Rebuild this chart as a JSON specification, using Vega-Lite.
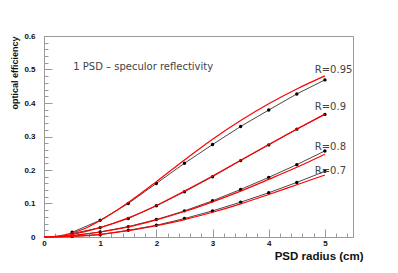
{
  "$schema": "https://vega.github.io/schema/vega-lite/v6.json",
  "autosize": "none",
  "width": 309,
  "height": 201,
  "padding": {"left": 44, "top": 36, "right": 45, "bottom": 36},
  "background": "white",
  "config": {
    "view": {"stroke": "#9a9a9a", "strokeWidth": 1},
    "axis": {
      "domainColor": "#9a9a9a",
      "tickColor": "#9a9a9a",
      "grid": false,
      "labelFont": "Liberation Sans",
      "labelFontWeight": "bold",
      "labelFontSize": 8,
      "labelColor": "#111",
      "titleFont": "Liberation Sans",
      "titleFontWeight": "bold",
      "titleColor": "#111"
    }
  },
  "datasets": {
    "curves": [
      {"series": "0.95", "kind": "data", "x": 0.5, "y": 0.014},
      {"series": "0.95", "kind": "data", "x": 1, "y": 0.050},
      {"series": "0.95", "kind": "data", "x": 1.5, "y": 0.100},
      {"series": "0.95", "kind": "data", "x": 2, "y": 0.160},
      {"series": "0.95", "kind": "data", "x": 2.5, "y": 0.220},
      {"series": "0.95", "kind": "data", "x": 3, "y": 0.276},
      {"series": "0.95", "kind": "data", "x": 3.5, "y": 0.330},
      {"series": "0.95", "kind": "data", "x": 4, "y": 0.379},
      {"series": "0.95", "kind": "data", "x": 4.5, "y": 0.427},
      {"series": "0.95", "kind": "data", "x": 5, "y": 0.469},
      {"series": "0.9", "kind": "data", "x": 0.5, "y": 0.010},
      {"series": "0.9", "kind": "data", "x": 1, "y": 0.028},
      {"series": "0.9", "kind": "data", "x": 1.5, "y": 0.055},
      {"series": "0.9", "kind": "data", "x": 2, "y": 0.093},
      {"series": "0.9", "kind": "data", "x": 2.5, "y": 0.135},
      {"series": "0.9", "kind": "data", "x": 3, "y": 0.180},
      {"series": "0.9", "kind": "data", "x": 3.5, "y": 0.228},
      {"series": "0.9", "kind": "data", "x": 4, "y": 0.275},
      {"series": "0.9", "kind": "data", "x": 4.5, "y": 0.322},
      {"series": "0.9", "kind": "data", "x": 5, "y": 0.366},
      {"series": "0.8", "kind": "data", "x": 0.5, "y": 0.004},
      {"series": "0.8", "kind": "data", "x": 1, "y": 0.015},
      {"series": "0.8", "kind": "data", "x": 1.5, "y": 0.031},
      {"series": "0.8", "kind": "data", "x": 2, "y": 0.052},
      {"series": "0.8", "kind": "data", "x": 2.5, "y": 0.078},
      {"series": "0.8", "kind": "data", "x": 3, "y": 0.108},
      {"series": "0.8", "kind": "data", "x": 3.5, "y": 0.142},
      {"series": "0.8", "kind": "data", "x": 4, "y": 0.178},
      {"series": "0.8", "kind": "data", "x": 4.5, "y": 0.216},
      {"series": "0.8", "kind": "data", "x": 5, "y": 0.257},
      {"series": "0.7", "kind": "data", "x": 0.5, "y": 0.002},
      {"series": "0.7", "kind": "data", "x": 1, "y": 0.007},
      {"series": "0.7", "kind": "data", "x": 1.5, "y": 0.020},
      {"series": "0.7", "kind": "data", "x": 2, "y": 0.035},
      {"series": "0.7", "kind": "data", "x": 2.5, "y": 0.055},
      {"series": "0.7", "kind": "data", "x": 3, "y": 0.078},
      {"series": "0.7", "kind": "data", "x": 3.5, "y": 0.104},
      {"series": "0.7", "kind": "data", "x": 4, "y": 0.132},
      {"series": "0.7", "kind": "data", "x": 4.5, "y": 0.163},
      {"series": "0.7", "kind": "data", "x": 5, "y": 0.196},
      {"series": "0.95", "kind": "fit", "x": 0, "y": 0},
      {"series": "0.95", "kind": "fit", "x": 0.25, "y": 0.003},
      {"series": "0.95", "kind": "fit", "x": 0.5, "y": 0.012},
      {"series": "0.95", "kind": "fit", "x": 0.75, "y": 0.027},
      {"series": "0.95", "kind": "fit", "x": 1, "y": 0.049},
      {"series": "0.95", "kind": "fit", "x": 1.5, "y": 0.103},
      {"series": "0.95", "kind": "fit", "x": 2, "y": 0.165},
      {"series": "0.95", "kind": "fit", "x": 2.5, "y": 0.230},
      {"series": "0.95", "kind": "fit", "x": 3, "y": 0.292},
      {"series": "0.95", "kind": "fit", "x": 3.5, "y": 0.348},
      {"series": "0.95", "kind": "fit", "x": 4, "y": 0.398},
      {"series": "0.95", "kind": "fit", "x": 4.5, "y": 0.442},
      {"series": "0.95", "kind": "fit", "x": 5, "y": 0.481},
      {"series": "0.9", "kind": "fit", "x": 0, "y": 0},
      {"series": "0.9", "kind": "fit", "x": 0.25, "y": 0.002},
      {"series": "0.9", "kind": "fit", "x": 0.5, "y": 0.008},
      {"series": "0.9", "kind": "fit", "x": 0.75, "y": 0.017},
      {"series": "0.9", "kind": "fit", "x": 1, "y": 0.028},
      {"series": "0.9", "kind": "fit", "x": 1.5, "y": 0.057},
      {"series": "0.9", "kind": "fit", "x": 2, "y": 0.094},
      {"series": "0.9", "kind": "fit", "x": 2.5, "y": 0.137},
      {"series": "0.9", "kind": "fit", "x": 3, "y": 0.182},
      {"series": "0.9", "kind": "fit", "x": 3.5, "y": 0.229},
      {"series": "0.9", "kind": "fit", "x": 4, "y": 0.276},
      {"series": "0.9", "kind": "fit", "x": 4.5, "y": 0.322},
      {"series": "0.9", "kind": "fit", "x": 5, "y": 0.367},
      {"series": "0.8", "kind": "fit", "x": 0, "y": 0},
      {"series": "0.8", "kind": "fit", "x": 0.25, "y": 0.001},
      {"series": "0.8", "kind": "fit", "x": 0.5, "y": 0.004},
      {"series": "0.8", "kind": "fit", "x": 0.75, "y": 0.009},
      {"series": "0.8", "kind": "fit", "x": 1, "y": 0.015},
      {"series": "0.8", "kind": "fit", "x": 1.5, "y": 0.030},
      {"series": "0.8", "kind": "fit", "x": 2, "y": 0.051},
      {"series": "0.8", "kind": "fit", "x": 2.5, "y": 0.076},
      {"series": "0.8", "kind": "fit", "x": 3, "y": 0.105},
      {"series": "0.8", "kind": "fit", "x": 3.5, "y": 0.137},
      {"series": "0.8", "kind": "fit", "x": 4, "y": 0.172},
      {"series": "0.8", "kind": "fit", "x": 4.5, "y": 0.208},
      {"series": "0.8", "kind": "fit", "x": 5, "y": 0.247},
      {"series": "0.7", "kind": "fit", "x": 0, "y": 0},
      {"series": "0.7", "kind": "fit", "x": 0.25, "y": 0.0005},
      {"series": "0.7", "kind": "fit", "x": 0.5, "y": 0.002},
      {"series": "0.7", "kind": "fit", "x": 0.75, "y": 0.004},
      {"series": "0.7", "kind": "fit", "x": 1, "y": 0.008},
      {"series": "0.7", "kind": "fit", "x": 1.5, "y": 0.019},
      {"series": "0.7", "kind": "fit", "x": 2, "y": 0.034},
      {"series": "0.7", "kind": "fit", "x": 2.5, "y": 0.052},
      {"series": "0.7", "kind": "fit", "x": 3, "y": 0.074},
      {"series": "0.7", "kind": "fit", "x": 3.5, "y": 0.099},
      {"series": "0.7", "kind": "fit", "x": 4, "y": 0.127},
      {"series": "0.7", "kind": "fit", "x": 4.5, "y": 0.156},
      {"series": "0.7", "kind": "fit", "x": 5, "y": 0.185}
    ],
    "labels": [
      {"text": "R=0.95", "x": 4.82, "y": 0.499},
      {"text": "R=0.9", "x": 4.82, "y": 0.389},
      {"text": "R=0.8", "x": 4.82, "y": 0.269},
      {"text": "R=0.7", "x": 4.82, "y": 0.198},
      {"text": "1 PSD – speculor reflectivity", "x": 0.52, "y": 0.508}
    ]
  },
  "encoding": {
    "x": {
      "field": "x", "type": "quantitative",
      "scale": {"domain": [0, 5.5], "nice": false, "zero": false},
      "axis": {
        "title": "PSD radius (cm)",
        "values": [0,0.2,0.4,0.6,0.8,1,1.2,1.4,1.6,1.8,2,2.2,2.4,2.6,2.8,3,3.2,3.4,3.6,3.8,4,4.2,4.4,4.6,4.8,5,5.2,5.4],
        "labelExpr": "abs(datum.value - round(datum.value)) < 0.001 ? format(datum.value, 'd') : ''",
        "tickSize": {"condition": {"test": "abs(datum.value - round(datum.value)) < 0.001", "value": -8}, "value": -4},
        "labelPadding": 10,
        "labelFlush": false,
        "labelOverlap": false,
        "titleFontSize": 11.5,
        "titleAnchor": "end",
        "titleAlign": "right",
        "titleBaseline": "middle",
        "titleX": 319,
        "titleY": 19.5
      }
    },
    "y": {
      "field": "y", "type": "quantitative",
      "scale": {"domain": [0, 0.6], "nice": false},
      "axis": {
        "title": "optical efficiency",
        "values": [0,0.02,0.04,0.06,0.08,0.1,0.12,0.14,0.16,0.18,0.2,0.22,0.24,0.26,0.28,0.3,0.32,0.34,0.36,0.38,0.4,0.42,0.44,0.46,0.48,0.5,0.52,0.54,0.56,0.58,0.6],
        "labelExpr": "abs(datum.value * 10 - round(datum.value * 10)) < 0.001 ? format(datum.value, '.1~f') : ''",
        "tickSize": {"condition": {"test": "abs(datum.value * 10 - round(datum.value * 10)) < 0.001", "value": -8}, "value": -4},
        "labelPadding": 17,
        "labelFlush": false,
        "labelOverlap": false,
        "titleFontSize": 9,
        "titleAngle": -90,
        "titleAnchor": "end",
        "titleAlign": "right",
        "titleBaseline": "middle",
        "titleX": -30,
        "titleY": 0
      }
    }
  },
  "layer": [
    {
      "data": {"name": "curves"},
      "transform": [{"filter": "datum.kind === 'data'"}],
      "mark": {"type": "line", "color": "#333333", "strokeWidth": 0.9, "point": {"filled": true, "color": "#000000", "size": 12}},
      "encoding": {"detail": {"field": "series"}}
    },
    {
      "data": {"name": "curves"},
      "transform": [{"filter": "datum.kind === 'fit'"}],
      "mark": {"type": "line", "color": "#ff0000", "strokeWidth": 1.2, "interpolate": "monotone"},
      "encoding": {"detail": {"field": "series"}}
    },
    {
      "data": {"name": "labels"},
      "mark": {"type": "text", "align": "left", "baseline": "middle", "font": "DejaVu Sans", "fontSize": 10, "color": "#444444"},
      "encoding": {"text": {"field": "text"}}
    }
  ]
}
